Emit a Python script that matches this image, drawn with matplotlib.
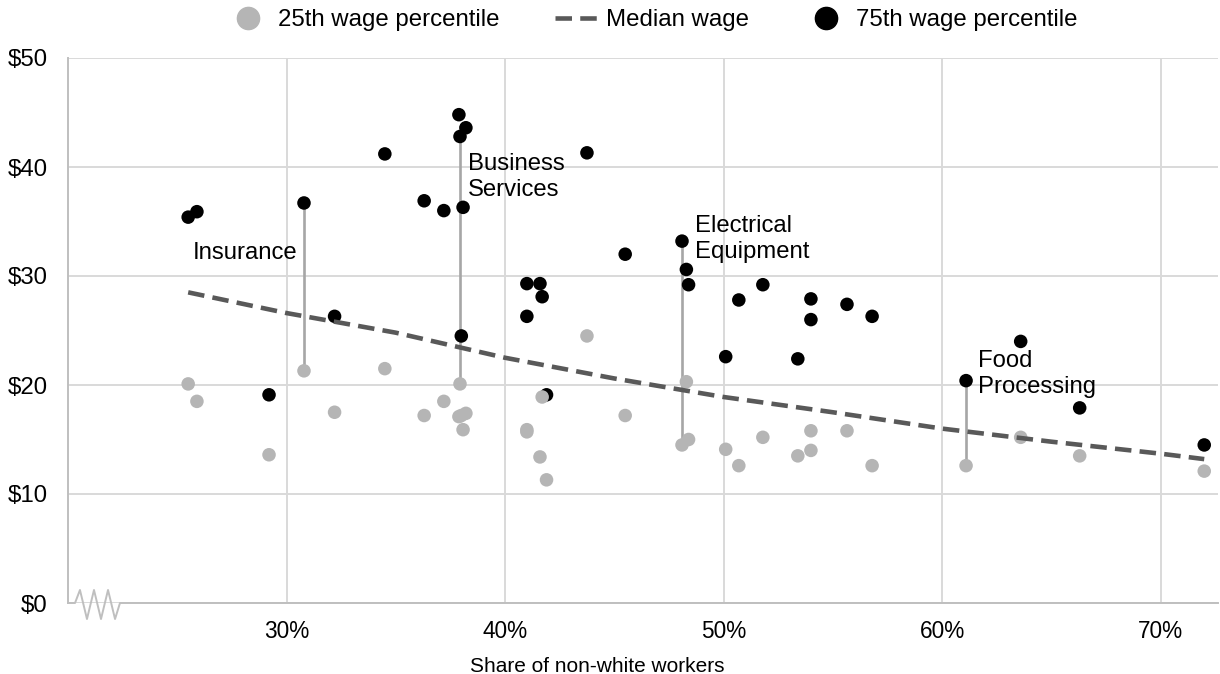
import matplotlib
matplotlib.use("Agg")
import matplotlib.pyplot as plt
from matplotlib.lines import Line2D

plt.rcParams['font.family'] = ['Liberation Sans', 'DejaVu Sans']

# share of non-white workers (%) per industry, with 25th / 75th wage percentiles ($/hr)
share = [25.5, 25.9, 29.2, 30.8, 32.2, 34.5, 36.3, 37.2, 37.94, 37.89,
         38.21, 38.08, 38.0, 41.0, 41.6, 41.7, 41.0, 41.9, 43.75, 45.5,
         48.1, 48.3, 48.4, 50.1, 50.7, 51.8, 53.4, 54.0, 54.0, 55.65,
         56.8, 61.1, 63.6, 66.3, 72.0]
p25 = [20.1, 18.5, 13.6, 21.3, 17.5, 21.5, 17.2, 18.5, 20.1, 17.1,
       17.4, 15.9, 17.2, 15.9, 13.4, 18.9, 15.7, 11.3, 24.5, 17.2,
       14.5, 20.3, 15.0, 14.1, 12.6, 15.2, 13.5, 15.8, 14.0, 15.8,
       12.6, 12.6, 15.2, 13.5, 12.1]
p75 = [35.4, 35.9, 19.1, 36.7, 26.3, 41.2, 36.9, 36.0, 42.8, 44.8,
       43.6, 36.3, 24.5, 29.3, 29.3, 28.1, 26.3, 19.1, 41.3, 32.0,
       33.2, 30.6, 29.2, 22.6, 27.8, 29.2, 22.4, 27.9, 26.0, 27.4,
       26.3, 20.4, 24.0, 17.9, 14.5]

# median wage trend
median_x = [25.5, 30, 35, 40, 45, 50, 55, 60, 65, 70, 72.0]
median_y = [28.5, 26.6, 24.8, 22.5, 20.6, 18.9, 17.5, 16.0, 14.8, 13.7, 13.2]

# highlighted industries: index into the lists above, label, label position
highlights = [(3, "Insurance", 25.72, 32.1),
              (8, "Business\nServices", 38.31, 39.1),
              (20, "Electrical\nEquipment", 48.7, 33.4),
              (31, "Food\nProcessing", 61.65, 21.0)]

x_ticks = [30, 40, 50, 60, 70]
y_ticks = [0, 10, 20, 30, 40, 50]

GRAY_DOT = '#b5b5b5'
MED = '#595959'
GRID = '#d9d9d9'
AXIS = '#bfbfbf'

fig = plt.figure(figsize=(12.2, 6.74), dpi=100)
ax = fig.add_axes([68 / 1220, 71 / 674, 1150 / 1220, 545 / 674])

# connectors for highlighted industries
for i, name, tx, ty in highlights:
    ax.plot([share[i], share[i]], [p25[i], p75[i]], color='#a6a6a6', lw=1.9, zorder=2)
    ax.text(tx, ty, name, fontsize=17.2, ha='left', va='center', linespacing=1.22, zorder=6)

ax.scatter(share, p75, s=95, color='black', edgecolor='none', zorder=3)
ax.scatter(share, p25, s=95, color=GRAY_DOT, edgecolor='none', zorder=4)
ax.plot(median_x, median_y, color=MED, lw=3.3, ls=(0, (3.6, 1.8)), zorder=5)

ax.set_xlim(20, 72.63)
ax.set_ylim(0, 50)
ax.set_xticks(x_ticks)
ax.set_xticklabels([f"{t}%" for t in x_ticks], fontsize=16.3)
ax.set_yticks(y_ticks)
ax.set_yticklabels([f"${t}" for t in y_ticks], fontsize=17.3)
ax.tick_params(length=0)
ax.tick_params(axis='x', pad=12)
ax.tick_params(axis='y', pad=14.5)
ax.grid(color=GRID, lw=1.4)
ax.set_axisbelow(True)

for side in ['top', 'right', 'bottom']:
    ax.spines[side].set_visible(False)
ax.spines['left'].set_color(AXIS)
ax.spines['left'].set_linewidth(1.4)

# broken x axis with zigzag near the origin
zx = [0, 0.0061, 0.0104, 0.0165, 0.0226, 0.0287, 0.0348, 0.0409, 0.0452, 1.0]
zy = [0, 0, 0.0239, -0.0294, 0.0239, -0.0294, 0.0239, -0.0294, 0, 0]
ax.plot(zx, zy, color=AXIS, lw=1.4, transform=ax.transAxes, clip_on=False, zorder=1)

ax.set_xlabel("Share of non-white workers", fontsize=15, va='baseline')
ax.xaxis.set_label_coords(0.46, -0.1266)

handles = [
    Line2D([], [], marker='o', ls='none', color=GRAY_DOT, markersize=16),
    Line2D([], [], color=MED, lw=3.3, ls=(0, (3.6, 1.8))),
    Line2D([], [], marker='o', ls='none', color='black', markersize=16),
]
labels = ["25th wage percentile", "Median wage", "75th wage percentile"]
fig.legend(handles, labels, loc='center', bbox_to_anchor=(652 / 1220, 1 - 20 / 674),
           ncol=3, frameon=False, fontsize=17.3, handlelength=1.8,
           handletextpad=0.35, columnspacing=2.3)

fig.savefig("out.png", dpi=100)
